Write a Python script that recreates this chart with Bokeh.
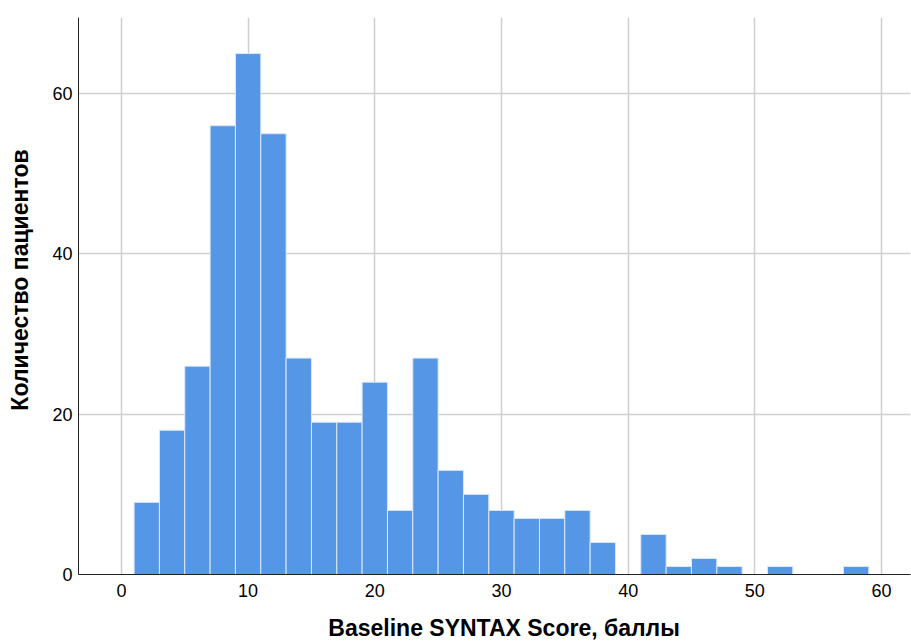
from bokeh.plotting import figure
from bokeh.models import Range1d, FixedTicker
from bokeh.embed import file_html
from bokeh.resources import INLINE

# Histogram bins (left edges, width 2) and counts
bin_left = [1, 3, 5, 7, 9, 11, 13, 15, 17, 19, 21, 23, 25, 27, 29, 31, 33, 35, 37, 39,
            41, 43, 45, 47, 49, 51, 53, 55, 57]
counts = [9, 18, 26, 56, 65, 55, 27, 19, 19, 24, 8, 27, 13, 10, 8, 7, 7, 8, 4, 0,
          5, 1, 2, 1, 0, 1, 0, 0, 1]
bin_width = 2
x_ticks = [0, 10, 20, 30, 40, 50, 60]
y_ticks = [0, 20, 40, 60]
x_title = "Baseline SYNTAX Score, баллы"
y_title = "Количество пациентов"

p = figure(width=911, height=644, output_backend="svg", toolbar_location=None,
           x_range=Range1d(-3.39, 62.29), y_range=Range1d(0, 69.5))
p.min_border_left = 78
p.min_border_right = 1
p.min_border_top = 17
p.min_border_bottom = 70
p.outline_line_color = None
p.background_fill_color = "white"
p.border_fill_color = "white"

bin_right = [b + bin_width for b in bin_left]
bottoms = [0] * len(counts)
p.quad(left=bin_left, right=bin_right, bottom=bottoms, top=counts,
       fill_color="#5596e6", line_color="#dbe8f9", line_width=1)

p.xaxis.ticker = FixedTicker(ticks=x_ticks)
p.yaxis.ticker = FixedTicker(ticks=y_ticks)
for ax in (p.xaxis, p.yaxis):
    ax.major_tick_line_color = None
    ax.minor_tick_line_color = None
    ax.major_tick_out = 0
    ax.major_tick_in = 0
    ax.minor_tick_out = 0
    ax.minor_tick_in = 0
    ax.axis_line_color = "#222222"
    ax.axis_line_width = 1
    ax.major_label_text_font = "Liberation Sans"
    ax.major_label_text_font_size = "18px"
    ax.major_label_text_color = "black"
    ax.axis_label_text_font = "Liberation Sans"
    ax.axis_label_text_font_size = "23px"
    ax.axis_label_text_font_style = "bold"
    ax.axis_label_text_color = "black"

# leading no-break spaces nudge the centred titles along their axes, as in the original
p.xaxis.axis_label = "\u00a0" * 3 + x_title
p.yaxis.axis_label = "\u00a0" * 5 + y_title
p.xaxis.major_label_standoff = 9
p.yaxis.major_label_standoff = 6
p.xaxis.axis_label_standoff = 15
p.yaxis.axis_label_standoff = 16

p.xgrid.ticker = FixedTicker(ticks=x_ticks)
p.ygrid.ticker = FixedTicker(ticks=y_ticks)
p.grid.grid_line_color = "#cfcfcf"
p.grid.grid_line_width = 1.5

open("out.html", "w").write(file_html(p, INLINE))
